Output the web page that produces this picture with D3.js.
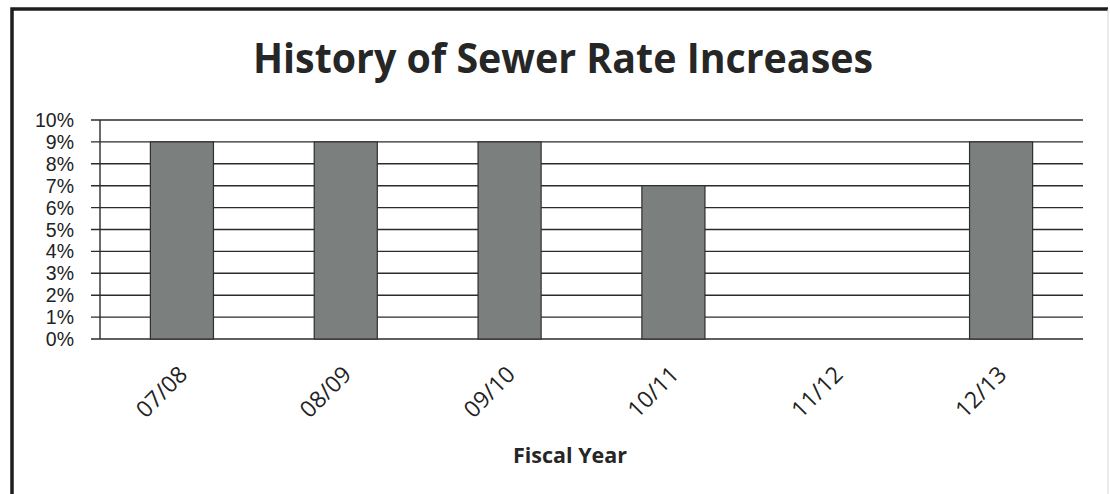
<!DOCTYPE html>
<html>
<head>
<meta charset="utf-8">
<script src="https://cdn.jsdelivr.net/npm/d3@7"></script>
<style>
  body { margin: 0; background: #fff; }
  svg { display: block; }
  .grid line { stroke: #2b2b2b; stroke-width: 1.4; }
  .tick-label { font-family: "Open Sans", sans-serif; fill: #222; }
  .y-label { font-family: "Liberation Sans", Arial, sans-serif; fill: #222; }
</style>
</head>
<body>
<svg id="chart"></svg>
<script>
const WIDTH = 1110;
const HEIGHT = 494;

// chart data
const fiscalYears = ["07/08", "08/09", "09/10", "10/11", "11/12", "12/13"];
const rateIncrease = [9, 9, 9, 7, 0, 9];
const yTicks = [0, 1, 2, 3, 4, 5, 6, 7, 8, 9, 10];

const margin = { left: 100, right: 27, top: 120, bottom: 155 };

const svg = d3.select("#chart")
	.attr("width", WIDTH)
	.attr("height", HEIGHT);

// outer frame
svg.append("path")
	.attr("d", `M12,${HEIGHT + 5} L12,9 L1108,9`)
	.attr("fill", "none")
	.attr("stroke", "#1e1e1e")
	.attr("stroke-width", 3.5);
svg.append("line")
	.attr("x1", 1108).attr("x2", 1108)
	.attr("y1", 9).attr("y2", HEIGHT)
	.attr("stroke", "#d8d8d8")
	.attr("stroke-width", 1);

const xScale = d3.scaleBand(fiscalYears, [margin.left, WIDTH - margin.right])
	.paddingInner(0.615)
	.paddingOuter(0.3075);
const yScale = d3.scaleLinear([0, 10], [HEIGHT - margin.bottom, margin.top]);

// horizontal gridlines plus little ticks left of the axis
const grid = svg.append("g").attr("class", "grid");
grid.selectAll("line.h")
	.data(yTicks)
	.join("line")
	.classed("h", true)
	.attr("x1", margin.left - 9)
	.attr("x2", WIDTH - margin.right)
	.attr("y1", d => yScale(d))
	.attr("y2", d => yScale(d));

grid.append("line")
	.attr("x1", margin.left)
	.attr("x2", margin.left)
	.attr("y1", yScale(0))
	.attr("y2", yScale(10));

// y labels, packed tight like the original
svg.append("g")
	.selectAll("text")
	.data(yTicks)
	.join("text")
	.attr("class", "y-label")
	.attr("x", 74)
	.attr("y", d => yScale(d))
	.attr("dy", "0.36em")
	.attr("text-anchor", "end")
	.attr("font-size", 19.5)
	.text(d => d + "%");

// bars
svg.append("g")
	.selectAll("rect")
	.data(fiscalYears.map((k, i) => ({ k, v: rateIncrease[i] })).filter(d => d.v > 0))
	.join("rect")
	.attr("x", d => xScale(d.k))
	.attr("width", xScale.bandwidth())
	.attr("y", d => yScale(d.v))
	.attr("height", d => yScale(0) - yScale(d.v))
	.attr("fill", "#7b807f")
	.attr("stroke", "#2e2e2e")
	.attr("stroke-width", 1.2);

// rotated category labels
svg.append("g")
	.selectAll("text")
	.data(fiscalYears)
	.join("text")
	.attr("class", "tick-label")
	.attr("font-size", 23)
	.attr("text-anchor", "end")
	.attr("transform", d => `translate(${xScale(d) + xScale.bandwidth() / 2 + 7},376) rotate(-45)`)
	.text(d => d);

// titles
svg.append("text")
	.attr("x", 563)
	.attr("y", 73)
	.attr("text-anchor", "middle")
	.attr("font-family", "Open Sans, sans-serif")
	.attr("font-weight", "bold")
	.attr("font-size", 41)
	.attr("fill", "#262626")
	.attr("textLength", 620)
	.attr("lengthAdjust", "spacingAndGlyphs")
	.text("History of Sewer Rate Increases");

svg.append("text")
	.attr("x", 570)
	.attr("y", 463)
	.attr("text-anchor", "middle")
	.attr("font-family", "Open Sans, sans-serif")
	.attr("font-weight", "bold")
	.attr("font-size", 21)
	.attr("fill", "#262626")
	.attr("textLength", 114)
	.attr("lengthAdjust", "spacingAndGlyphs")
	.text("Fiscal Year");
</script>
</body>
</html>
